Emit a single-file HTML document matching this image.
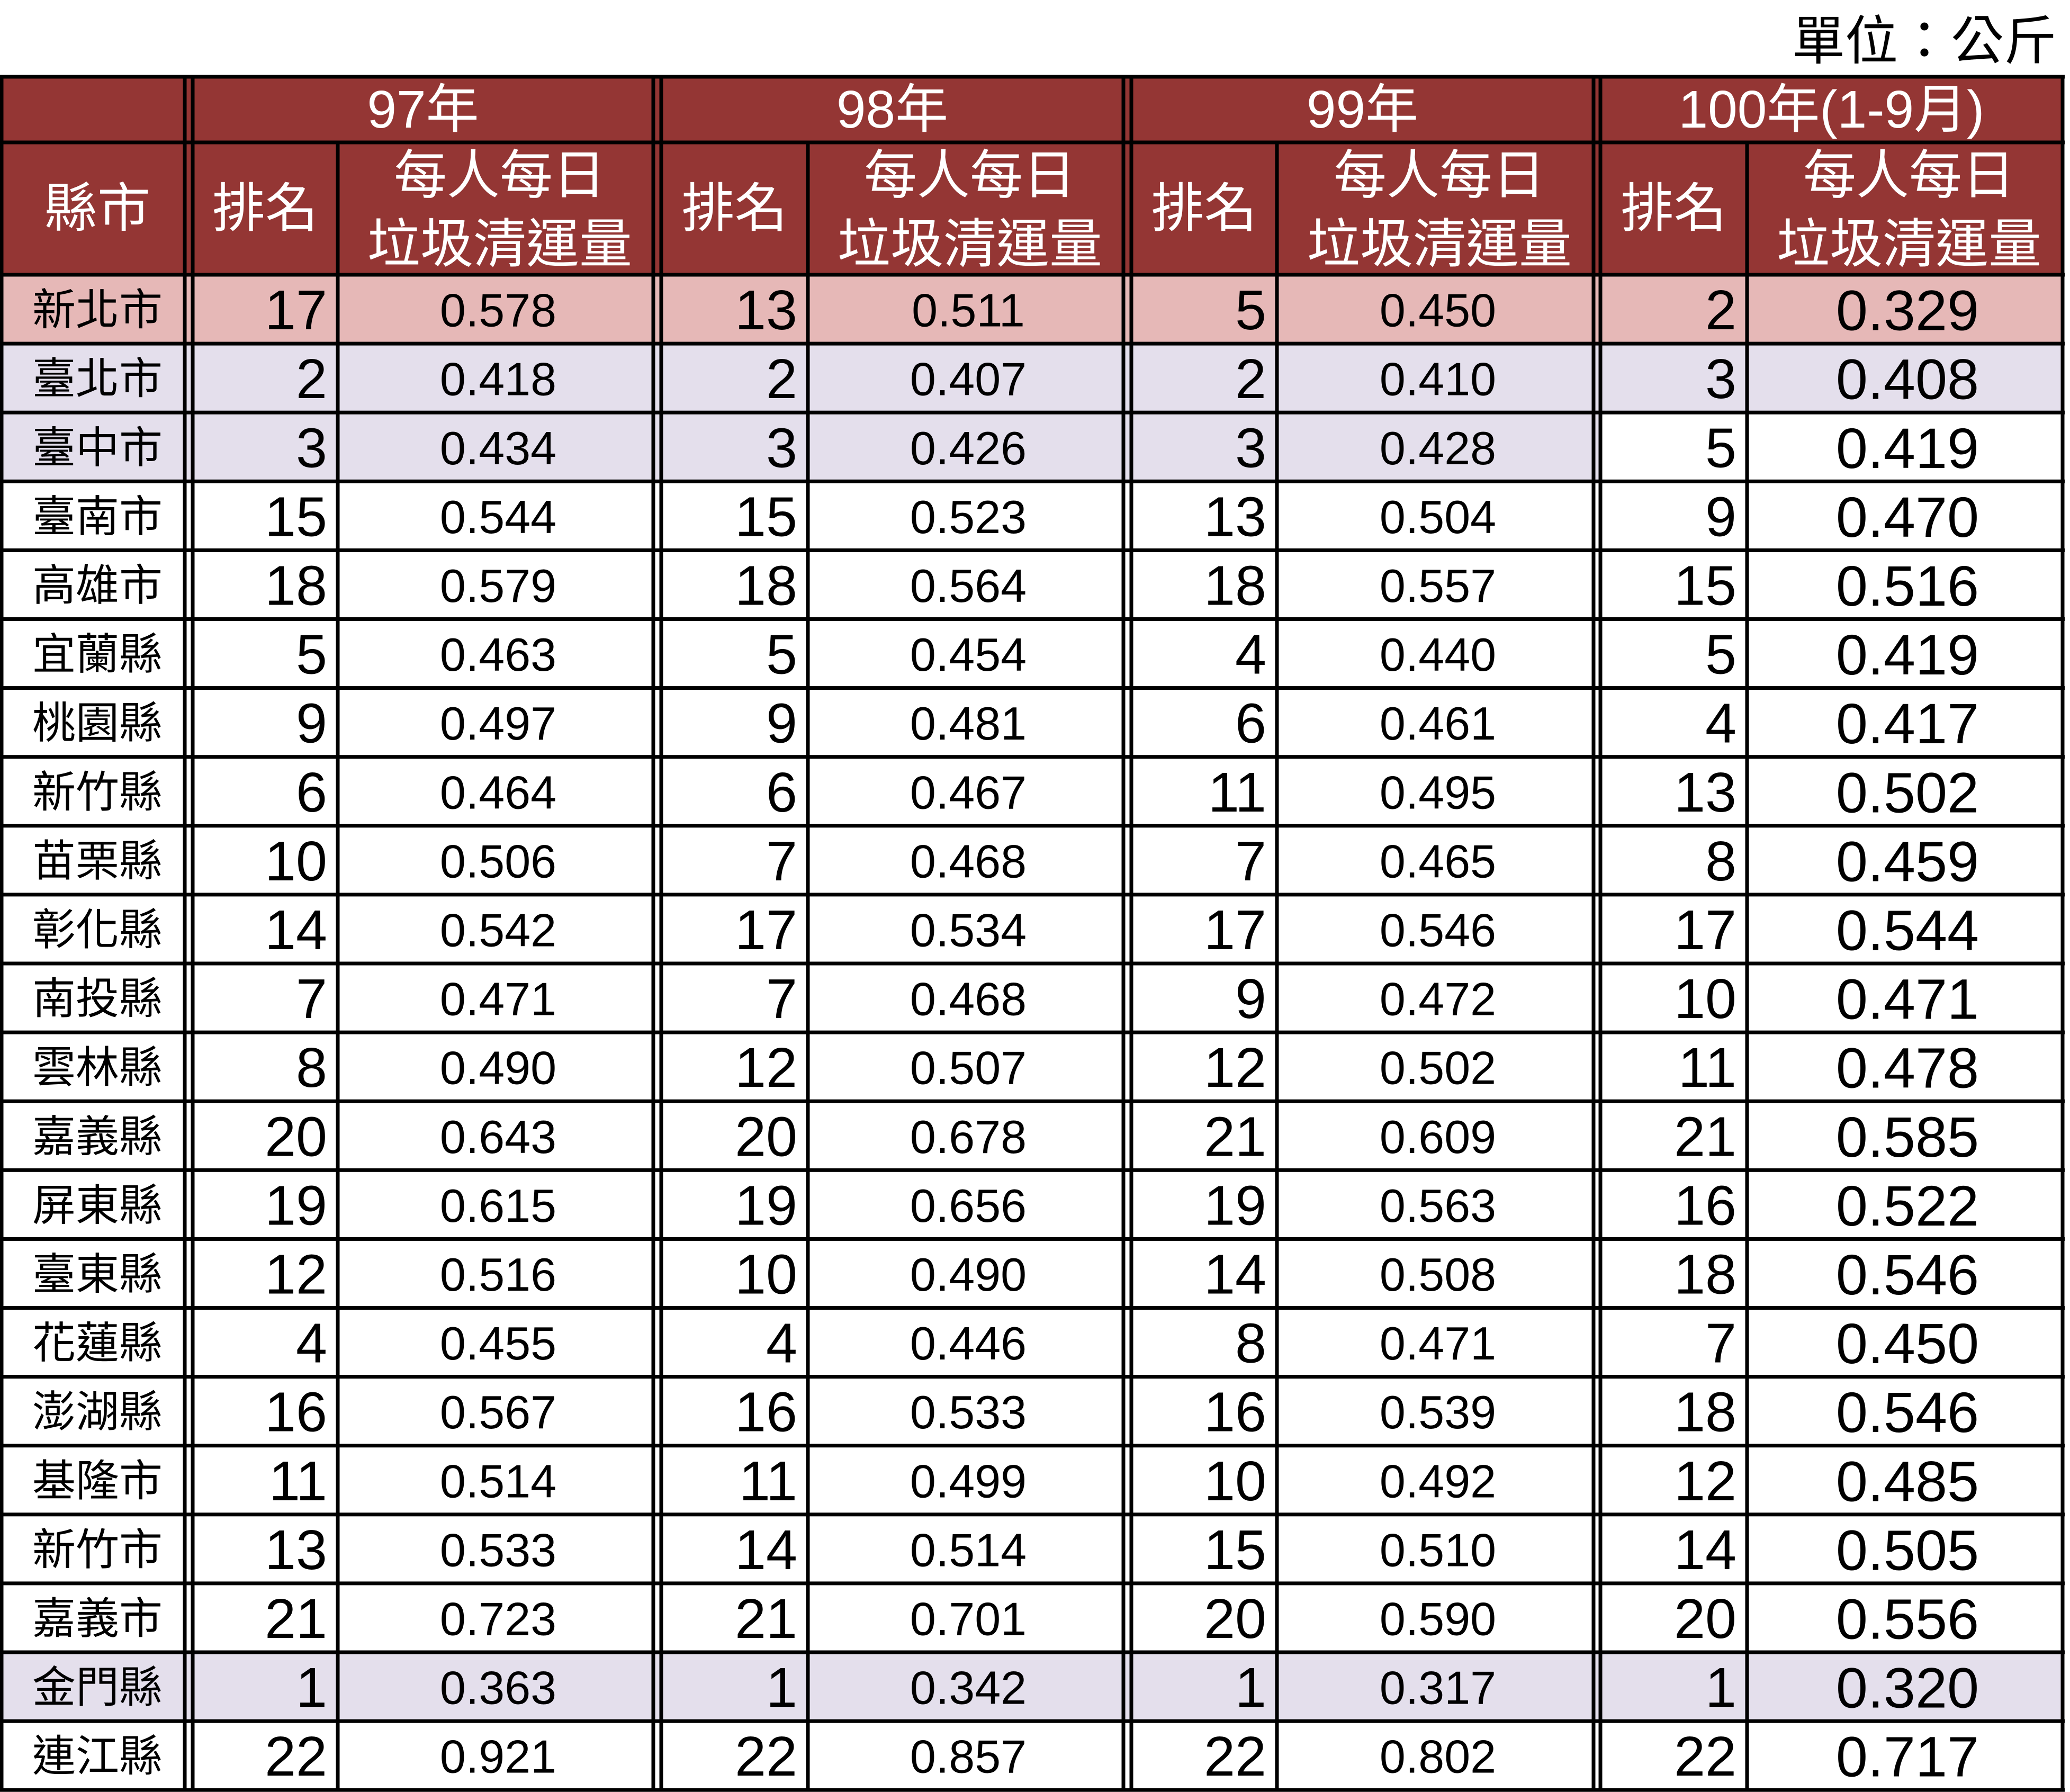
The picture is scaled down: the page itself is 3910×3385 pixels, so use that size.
<!DOCTYPE html>
<html><head><meta charset="utf-8"><style>
html,body{margin:0;padding:0;background:#fff;}
svg{display:block;}
text{font-family:"Liberation Sans","Noto Sans CJK TC",sans-serif;}
</style></head><body>
<svg id="tbl" width="3910" height="3385" viewBox="0 0 3910 3385" xmlns="http://www.w3.org/2000/svg">
<text x="3885" y="78" font-size="100" text-anchor="end" dominant-baseline="central" fill="#000">單位：公斤</text>
</svg>
<script>
const cities=["新北市","臺北市","臺中市","臺南市","高雄市","宜蘭縣","桃園縣","新竹縣","苗栗縣","彰化縣","南投縣","雲林縣","嘉義縣","屏東縣","臺東縣","花蓮縣","澎湖縣","基隆市","新竹市","嘉義市","金門縣","連江縣"];
const years=["97年","98年","99年","100年(1-9月)"];
const rank97=[17,2,3,15,18,5,9,6,10,14,7,8,20,19,12,4,16,11,13,21,1,22];
const val97=["0.578","0.418","0.434","0.544","0.579","0.463","0.497","0.464","0.506","0.542","0.471","0.490","0.643","0.615","0.516","0.455","0.567","0.514","0.533","0.723","0.363","0.921"];
const rank98=[13,2,3,15,18,5,9,6,7,17,7,12,20,19,10,4,16,11,14,21,1,22];
const val98=["0.511","0.407","0.426","0.523","0.564","0.454","0.481","0.467","0.468","0.534","0.468","0.507","0.678","0.656","0.490","0.446","0.533","0.499","0.514","0.701","0.342","0.857"];
const rank99=[5,2,3,13,18,4,6,11,7,17,9,12,21,19,14,8,16,10,15,20,1,22];
const val99=["0.450","0.410","0.428","0.504","0.557","0.440","0.461","0.495","0.465","0.546","0.472","0.502","0.609","0.563","0.508","0.471","0.539","0.492","0.510","0.590","0.317","0.802"];
const rank100=[2,3,5,9,15,5,4,13,8,17,10,11,21,16,18,7,18,12,14,20,1,22];
const val100=["0.329","0.408","0.419","0.470","0.516","0.419","0.417","0.502","0.459","0.544","0.471","0.478","0.585","0.522","0.546","0.450","0.546","0.485","0.505","0.556","0.320","0.717"];
const ranks=[rank97,rank98,rank99,rank100];
const vals=[val97,val98,val99,val100];

const svg=document.getElementById('tbl');
const NS="http://www.w3.org/2000/svg";
const RED="#943634",PINK="#E6B8B7",LAV="#E4DFEC";
const top0=145,h1=124,h2=250,rowH=130.1;
const dataTop=top0+h1+h2;
const groups=[[364,638,1234],[1249,1526,2122],[2137,2412,3010],[3023,3300,3896]];
function mk(tag,attrs){const e=document.createElementNS(NS,tag);for(const k in attrs)e.setAttribute(k,attrs[k]);svg.appendChild(e);return e;}
function txt(x,y,s,size,anchor,fill){const t=mk('text',{x:x,y:y,'font-size':size,'text-anchor':anchor,'dominant-baseline':'central',fill:fill});t.textContent=s;return t;}

let r=mk('rect',{x:0,y:top0,width:3896,height:h1+h2,fill:RED});



cities.forEach((c,i)=>{
  const y=dataTop+i*rowH;
  let fill=null, fill100=null;
  if(i===0){fill=PINK;fill100=PINK;}
  if(i===1||i===20){fill=LAV;fill100=LAV;}
  if(i===2){fill=LAV;fill100=null;}
  if(fill){const b=mk('rect',{x:0,y:y,width:3023,height:rowH,fill:fill});
    
    }
  if(fill100){const b=mk('rect',{x:3023,y:y,width:873,height:rowH,fill:fill100});
    
    }
});

let t=txt(184,top0+h1+h2/2,"縣市",100,'middle','#fff');


groups.forEach((g,gi)=>{
  let a=txt((g[0]+g[2])/2,top0+h1/2,years[gi],100,'middle','#fff');
  
  
  let b=txt((g[0]+g[1])/2,top0+h1+h2/2,"排名",100,'middle','#fff');
  
  
  let c1=txt((g[1]+g[2])/2+8,top0+h1+h2*0.25,"每人每日",100,'middle','#fff');
  
  
  let c2=txt((g[1]+g[2])/2+8,top0+h1+h2*0.77,"垃圾清運量",100,'middle','#fff');
  
  
});

cities.forEach((c,i)=>{
  const cy=dataTop+i*rowH+rowH/2+2;
  let n=txt(184,cy,c,82,'middle','#000');
  
  
  groups.forEach((g,gi)=>{
    let rk=txt(g[1]-20,cy,String(ranks[gi][i]),106,'end','#000');
    
    
    let v=txt((g[1]+g[2])/2+5,cy,vals[gi][i],gi===3?108:88,'middle','#000');
    
    
  });
});

const LW=7;
function hline(y,x1,x2){const l=mk('rect',{x:x1,y:y-LW/2,width:x2-x1,height:LW,fill:'#000'});
  
  }
function vline(x,y1,y2){const l=mk('rect',{x:x-LW/2,y:y1,width:LW,height:y2-y1,fill:'#000'});
  
  }
const bottom=dataTop+cities.length*rowH;
hline(top0,0,3900);
hline(top0+h1,0,3900);
for(let i=0;i<=cities.length;i++)hline(dataTop+i*rowH,0,3900);
vline(3,top0,bottom);
vline(349,top0,bottom);
groups.forEach((g,gi)=>{
  vline(g[0],top0,bottom);
  vline(g[1],top0+h1,bottom);
  vline(g[2],top0,bottom);
});
</script>
</body></html>
